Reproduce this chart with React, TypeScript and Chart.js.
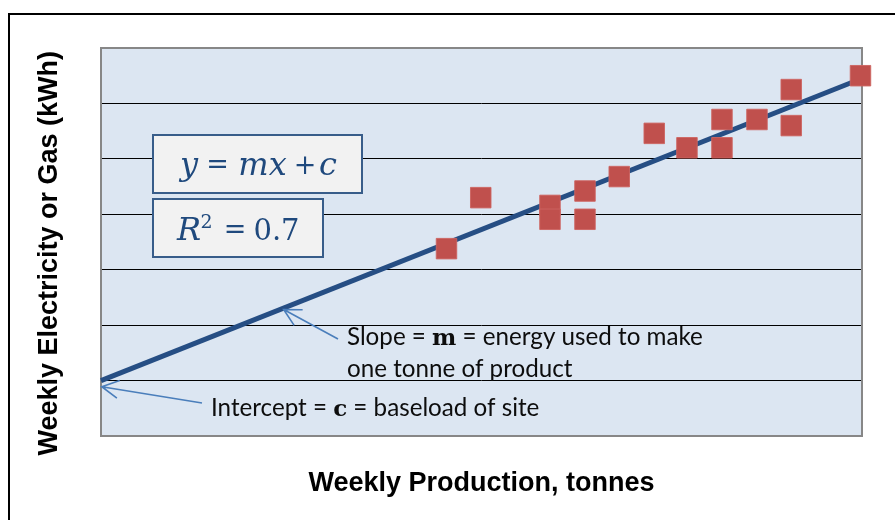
import React, { useEffect, useRef } from "react";
import { Chart, registerables } from "chart.js";

Chart.register(...registerables);

// ---- data ----
const productionTonnes = [45.4, 49.9, 59.0, 59.0, 63.6, 63.6, 68.1, 72.7, 77.0, 81.6, 81.6, 86.2, 90.7, 90.7, 99.8];
const weeklyEnergy = [3.38, 4.3, 4.16, 3.91, 4.42, 3.91, 4.68, 5.46, 5.2, 5.71, 5.2, 5.71, 5.6, 6.25, 6.5];
const trendX = [0, 99.8];
const trendY = [1.0, 6.44];
const xRange = [0, 100];
const yRange = [0, 7];

// ---- texts ----
const xTitle = "Weekly Production, tonnes";
const yTitle = "Weekly Electricity or Gas (kWh)";
const slopeLine1 = ["Slope = ", "m", " = energy used to make"];
const slopeLine2 = "one tonne of product";
const interceptLine = ["Intercept = ", "c", " = baseload of site"];
const slopeArrowAtX = 24; // tonnes, where the slope arrow touches the trendline
const interceptArrowAt = { x: 0.1, y: 0.89 };

const SANS = "Lato, 'Open Sans', sans-serif";
const SERIF = "'DejaVu Serif', serif";

function arrow(ctx: CanvasRenderingContext2D, x0: number, y0: number, x1: number, y1: number) {
  ctx.beginPath();
  ctx.moveTo(x0, y0);
  ctx.lineTo(x1, y1);
  const ang = Math.atan2(y0 - y1, x0 - x1);
  const len = 19;
  const spread = (28 * Math.PI) / 180;
  ctx.moveTo(x1 + Math.cos(ang - spread) * len, y1 + Math.sin(ang - spread) * len);
  ctx.lineTo(x1, y1);
  ctx.lineTo(x1 + Math.cos(ang + spread) * len, y1 + Math.sin(ang + spread) * len);
  ctx.stroke();
}

const decorPlugin = {
  id: "decor",
  beforeDraw(chart: any) {
    const { ctx, chartArea: a } = chart;
    ctx.save();
    ctx.fillStyle = "#ffffff";
    ctx.fillRect(0, 0, chart.width, chart.height);
    ctx.strokeStyle = "#000";
    ctx.lineWidth = 2;
    ctx.strokeRect(9, 14, chart.width + 40, chart.height + 40);
    ctx.fillStyle = "#DCE6F2";
    ctx.fillRect(a.left, a.top, a.right - a.left, a.bottom - a.top);
    ctx.restore();
  },
  beforeDatasetsDraw(chart: any) {
    const { ctx, chartArea: a } = chart;
    ctx.save();
    ctx.strokeStyle = "#878787";
    ctx.lineWidth = 2;
    ctx.strokeRect(a.left, a.top, a.right - a.left, a.bottom - a.top);
    ctx.restore();
  },
  afterDraw(chart: any) {
    const { ctx } = chart;
    const xs = chart.scales.x;
    const ys = chart.scales.y;
    ctx.save();

    // equation boxes
    ctx.fillStyle = "#F2F2F2";
    ctx.strokeStyle = "#385D8A";
    ctx.lineWidth = 2;
    ctx.fillRect(153, 135, 209, 58);
    ctx.strokeRect(153, 135, 209, 58);
    ctx.fillRect(153, 199, 170, 58);
    ctx.strokeRect(153, 199, 170, 58);

    ctx.fillStyle = "#1F497D";
    ctx.textBaseline = "alphabetic";
    ctx.textAlign = "center";
    const it = `italic 32px ${SERIF}`;
    const rm = `27px ${SERIF}`;
    const put = (t: string, f: string, cx: number, y: number) => {
      ctx.font = f;
      ctx.fillText(t, cx, y);
    };
    put("y", it, 189, 175);
    put("=", rm, 217.5, 173);
    put("mx", it, 262.5, 175);
    put("+", rm, 305, 174);
    put("c", it, 328, 175);
    put("R", it, 189, 240);
    put("2", `19px ${SERIF}`, 206.5, 228);
    put("=", rm, 235, 238);
    put("0.7", `29px ${SERIF}`, 276.5, 240);
    ctx.textAlign = "left";

    // annotation text, font fitted to the reference width
    const base = 20;
    const sansF = (s: number) => `${s}px ${SANS}`;
    const serifB = (s: number) => `bold ${s}px ${SERIF}`;
    const widthOf = (segs: string[], s: number) => {
      let w = 0;
      segs.forEach((t, i) => {
        ctx.font = i === 1 ? serifB(s * 0.95) : sansF(s);
        w += ctx.measureText(t).width;
      });
      return w;
    };
    const size = (base * 356) / widthOf(slopeLine1, base);
    const drawRich = (segs: string[], x: number, y: number) => {
      segs.forEach((t, i) => {
        ctx.font = i === 1 ? serifB(size * 0.95) : sansF(size);
        ctx.fillText(t, x, y);
        x += ctx.measureText(t).width;
      });
    };
    ctx.fillStyle = "#0d0d0d";
    drawRich(slopeLine1, 347, 345);
    ctx.font = sansF(size);
    ctx.fillText(slopeLine2, 347, 377);
    drawRich(interceptLine, 211, 416);

    // arrows
    ctx.strokeStyle = "#4A7EBB";
    ctx.lineWidth = 1.6;
    const slopeY = trendY[0] + ((trendY[1] - trendY[0]) / (trendX[1] - trendX[0])) * (slopeArrowAtX - trendX[0]);
    arrow(ctx, 338, 339, xs.getPixelForValue(slopeArrowAtX), ys.getPixelForValue(slopeY) + 1.5);
    arrow(ctx, 202, 403, xs.getPixelForValue(interceptArrowAt.x), ys.getPixelForValue(interceptArrowAt.y));

    ctx.restore();
  },
};

export default function App() {
  const ref = useRef<HTMLCanvasElement | null>(null);
  useEffect(() => {
    if (!ref.current) return;
    const titleFont = { family: "'Liberation Sans', Arial, sans-serif", weight: "bold" as const, size: 27 };
    const chart = new Chart(ref.current, {
      type: "scatter",
      data: {
        datasets: [
          {
            type: "line",
            label: "Trend",
            data: trendX.map((x, i) => ({ x, y: trendY[i] })),
            borderColor: "#264E84",
            borderWidth: 5,
            pointRadius: 0,
            fill: false,
            order: 2,
            clip: false as any,
          },
          {
            type: "scatter",
            label: "Weeks",
            data: productionTonnes.map((x, i) => ({ x, y: weeklyEnergy[i] })),
            pointStyle: "rect",
            pointRadius: 14.5,
            pointBackgroundColor: "#C0504D",
            pointBorderColor: "rgba(205,100,97,0.9)",
            pointBorderWidth: 1,
            order: 1,
            clip: false as any,
          },
        ],
      },
      options: {
        responsive: false,
        animation: false,
        devicePixelRatio: 1,
        layout: { padding: { left: 20, top: 48, right: 33, bottom: 15.4 } },
        plugins: { legend: { display: false }, tooltip: { enabled: false } },
        scales: {
          x: {
            type: "linear",
            min: xRange[0],
            max: xRange[1],
            ticks: { display: false },
            grid: { display: false, drawTicks: false },
            border: { display: false },
            title: {
              display: true,
              text: xTitle,
              color: "#000",
              font: titleFont,
              padding: { top: 31.2, bottom: 5 },
            },
          },
          y: {
            type: "linear",
            min: yRange[0],
            max: yRange[1],
            ticks: { display: false, stepSize: 1 },
            grid: {
              drawTicks: false,
              lineWidth: 1,
              color: (c: any) =>
                c.tick && (c.tick.value === yRange[0] || c.tick.value === yRange[1]) ? "rgba(0,0,0,0)" : "#000",
            },
            border: { display: false },
            title: {
              display: true,
              text: yTitle + "\u00A0\u00A0\u00A0",
              color: "#000",
              font: titleFont,
              padding: { top: 13.8, bottom: 34.8 },
            },
          },
        },
      },
      plugins: [decorPlugin],
    });
    return () => chart.destroy();
  }, []);
  return (
    <div style={{ position: "fixed", left: 0, top: 0, width: 895, height: 520, background: "#fff" }}>
      <canvas ref={ref} width={895} height={520} style={{ display: "block" }} />
    </div>
  );
}
